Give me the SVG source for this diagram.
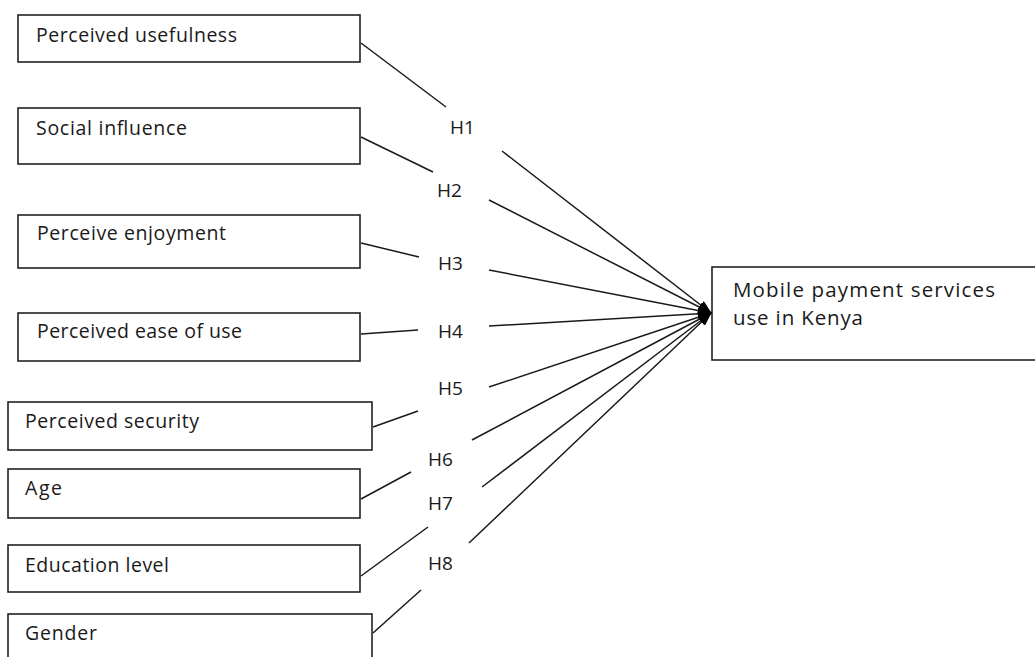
<svg xmlns="http://www.w3.org/2000/svg" width="1035" height="657" viewBox="0 0 1035 657">
<defs>
<style>
.box{fill:#fff;stroke:#222;stroke-width:1.6}
.t{font-family:"Open Sans","Noto Sans",sans-serif;font-size:19.5px;fill:#1a1a1a}
.h{font-family:"Open Sans","Noto Sans",sans-serif;font-size:19px;fill:#1a1a1a}
.c{stroke:#1a1a1a;stroke-width:1.5;fill:none}
</style>
<marker id="ah" markerWidth="14" markerHeight="10" refX="13" refY="5" orient="auto" markerUnits="userSpaceOnUse">
<path d="M0,0 L14,5 L0,10 z" fill="#000"/>
</marker>
</defs>
<rect width="1035" height="657" fill="#fff"/>
<g id="n1"><rect class="box" x="18" y="15" width="342" height="47"/><text class="t" x="36" y="42" textLength="201" lengthAdjust="spacing">Perceived usefulness</text></g>
<g id="n2"><rect class="box" x="18" y="108" width="342" height="56"/><text class="t" x="36" y="135" textLength="151" lengthAdjust="spacing">Social influence</text></g>
<g id="n3"><rect class="box" x="18" y="215" width="342" height="53"/><text class="t" x="37" y="240" textLength="189" lengthAdjust="spacing">Perceive enjoyment</text></g>
<g id="n4"><rect class="box" x="18" y="313" width="342" height="48"/><text class="t" x="37" y="338" textLength="205" lengthAdjust="spacing">Perceived ease of use</text></g>
<g id="n5"><rect class="box" x="8" y="402" width="364" height="48"/><text class="t" x="25" y="428" textLength="174" lengthAdjust="spacing">Perceived security</text></g>
<g id="n6"><rect class="box" x="8" y="469" width="352" height="49"/><text class="t" x="25" y="495" textLength="37" lengthAdjust="spacing">Age</text></g>
<g id="n7"><rect class="box" x="8" y="545" width="352" height="47"/><text class="t" x="25" y="572" textLength="144" lengthAdjust="spacing">Education level</text></g>
<g id="n8"><rect class="box" x="8" y="614" width="364" height="60"/><text class="t" x="25" y="640" textLength="72" lengthAdjust="spacing">Gender</text></g>
<g id="target"><rect class="box" x="712" y="267" width="340" height="93"/><text class="t" x="733" y="297" style="font-size:20.5px" textLength="262" lengthAdjust="spacing">Mobile payment services</text><text class="t" x="733" y="325" style="font-size:20.5px" textLength="130" lengthAdjust="spacing">use in Kenya</text></g>
<g id="connectors">
<line class="c" x1="361" y1="43" x2="446" y2="107"/>
<line class="c" x1="502" y1="151" x2="711" y2="313" marker-end="url(#ah)"/>
<line class="c" x1="361" y1="137" x2="433" y2="172"/>
<line class="c" x1="489" y1="200" x2="711" y2="313" marker-end="url(#ah)"/>
<line class="c" x1="361" y1="243" x2="419" y2="257"/>
<line class="c" x1="489" y1="270" x2="711" y2="313" marker-end="url(#ah)"/>
<line class="c" x1="361" y1="334" x2="418" y2="330"/>
<line class="c" x1="489" y1="326" x2="711" y2="313" marker-end="url(#ah)"/>
<line class="c" x1="373" y1="427" x2="418" y2="411"/>
<line class="c" x1="489" y1="387" x2="711" y2="313" marker-end="url(#ah)"/>
<line class="c" x1="361" y1="499" x2="411" y2="472"/>
<line class="c" x1="472" y1="440" x2="711" y2="313" marker-end="url(#ah)"/>
<line class="c" x1="361" y1="576" x2="428" y2="527"/>
<line class="c" x1="482" y1="487" x2="711" y2="313" marker-end="url(#ah)"/>
<line class="c" x1="373" y1="633" x2="421" y2="590"/>
<line class="c" x1="469" y1="543" x2="711" y2="313" marker-end="url(#ah)"/>
</g>
<g id="labels">
<text class="h" x="450" y="134">H1</text>
<text class="h" x="437" y="197">H2</text>
<text class="h" x="438" y="270">H3</text>
<text class="h" x="438" y="338">H4</text>
<text class="h" x="438" y="395">H5</text>
<text class="h" x="428" y="466">H6</text>
<text class="h" x="428" y="510">H7</text>
<text class="h" x="428" y="570">H8</text>
</g>
</svg>
